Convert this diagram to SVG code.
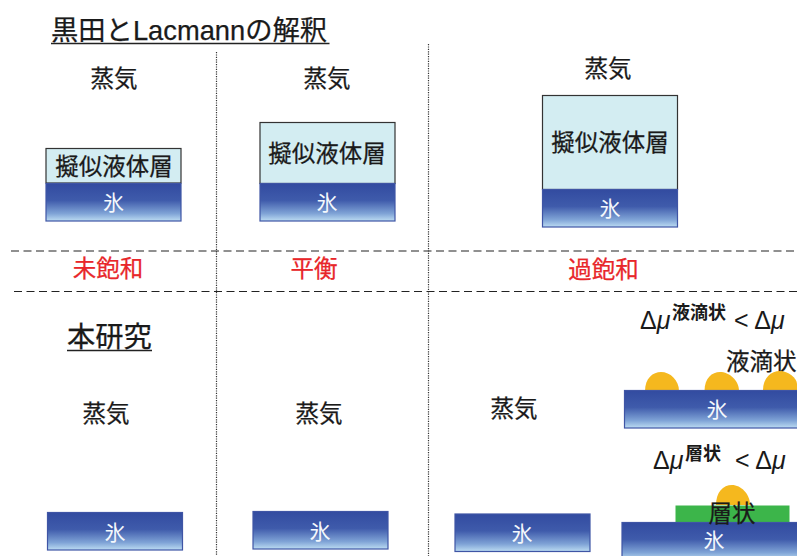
<svg xmlns="http://www.w3.org/2000/svg" width="797" height="556" viewBox="0 0 797 556">
<style>
text{font-family:"Liberation Sans","Noto Sans CJK JP",sans-serif;fill:#1a1a1a;stroke:#1a1a1a;stroke-width:.25}
.j{font-size:23.500px;text-anchor:middle}
.r{font-size:23.500px;text-anchor:middle;fill:#e8262a;stroke:#e8262a}
.w{font-size:21px;text-anchor:middle;fill:#f4f8fc;stroke:none}
.ice{fill:url(#ice);stroke:#3f55a5;stroke-width:1.2}
.pl{fill:#d3edf2;stroke:#333;stroke-width:1.2}
.dash{stroke:#222;stroke-width:1.2;stroke-dasharray:8 4.5;fill:none}
.dot{stroke:#333;stroke-width:1.2;stroke-dasharray:1.2 1.2;fill:none}
.drop{fill:#f5b81e}
.mu{font-size:25px;stroke:none}
.sup{font-size:18px;font-weight:bold;stroke:none}
</style>
<defs>
<linearGradient id="ice" x1="0" y1="0" x2="0" y2="1">
<stop offset="0" stop-color="#324ba0"/><stop offset="0.45" stop-color="#3f5bab"/><stop offset="0.8" stop-color="#7fa3d6"/><stop offset="1" stop-color="#bcdcf2"/>
</linearGradient>
</defs>
<rect width="797" height="556" fill="#fff"/>
<g id="connectors">
<path class="dot" d="M216.500 52V556M428.500 44V556"/>
<path class="dash" d="M11 251H797M14 291.500H797"/>
</g>
<g id="title">
<text x="51" y="40" font-size="27.300px">黒田とLacmannの解釈</text>
<path d="M51 43.500H329.500" stroke="#222" stroke-width="1.500"/>
</g>
<g id="vapor-labels">
<text class="j" x="114" y="87">蒸気</text>
<text class="j" x="327" y="87">蒸気</text>
<text class="j" x="608" y="77">蒸気</text>
<text class="j" x="106" y="422">蒸気</text>
<text class="j" x="319" y="422">蒸気</text>
<text class="j" x="514" y="417">蒸気</text>
</g>
<g id="stack-unsaturated">
<rect class="pl" x="46" y="148.500" width="135" height="34.500"/>
<text class="j" x="114" y="175">擬似液体層</text>
<rect class="ice" x="46" y="183.500" width="135" height="37.500"/>
<text class="w" x="113.500" y="210">氷</text>
</g>
<g id="stack-equilibrium">
<rect class="pl" x="260" y="122.500" width="135" height="61"/>
<text class="j" x="327" y="162">擬似液体層</text>
<rect class="ice" x="260" y="183.500" width="135" height="37.500"/>
<text class="w" x="327" y="210">氷</text>
</g>
<g id="stack-supersaturated">
<rect class="pl" x="542.500" y="95.500" width="135" height="94"/>
<text class="j" x="610" y="151">擬似液体層</text>
<rect class="ice" x="542.500" y="189.500" width="135" height="37.500"/>
<text class="w" x="610" y="216">氷</text>
</g>
<g id="state-labels">
<text class="r" x="108" y="277">未飽和</text>
<text class="r" x="314" y="277">平衡</text>
<text class="r" x="603.500" y="278">過飽和</text>
</g>
<g id="study-heading">
<text x="67" y="347" font-size="28.300px">本研究</text>
<path d="M67 350.500H152" stroke="#222" stroke-width="1.500"/>
</g>
<g id="ice-plain-1">
<rect class="ice" x="47.500" y="512.500" width="135" height="37.500"/>
<text class="w" x="115" y="540">氷</text>
</g>
<g id="ice-plain-2">
<rect class="ice" x="253" y="511.500" width="135" height="37.500"/>
<text class="w" x="320" y="539">氷</text>
</g>
<g id="ice-plain-3">
<rect class="ice" x="455" y="514" width="135" height="37.500"/>
<text class="w" x="522" y="541">氷</text>
</g>
<g id="droplet-case">
<text class="mu" x="640" y="329">Δ<tspan font-style="italic">μ</tspan></text>
<text class="sup" x="672" y="319">液滴状</text>
<text class="mu" x="734" y="329">&lt; Δ<tspan font-style="italic">μ</tspan></text>
<text x="726" y="370" font-size="23.500px">液滴状</text>
<path class="drop" d="M645 391C645 378 653 372 661 372C670 372 679 380 679 391Z"/>
<path class="drop" d="M704.500 391C704.500 378 712 372 720 372C729 372 739 380 739 391Z"/>
<path class="drop" d="M763 390C763 378 771 371 780 371C788 371 797 378 797 384V390Z"/>
<rect class="ice" x="624.500" y="390.500" width="180" height="37.500"/>
<text class="w" x="717" y="417">氷</text>
</g>
<g id="layer-case">
<text class="mu" x="653" y="469">Δ<tspan font-style="italic">μ</tspan></text>
<text class="sup" x="685" y="460">層状</text>
<text class="mu" x="735" y="469">&lt; Δ<tspan font-style="italic">μ</tspan></text>
<path class="drop" d="M716 505C716 492 723 485 732 485C741 485 750 494 750 505Z"/>
<rect x="675.500" y="505.500" width="114" height="17" fill="#3cb54a"/>
<rect class="ice" x="622" y="522.500" width="190" height="37.500"/>
<text x="732" y="522" font-size="23.500px" text-anchor="middle">層状</text>
<text class="w" x="714" y="548">氷</text>
</g>
</svg>
